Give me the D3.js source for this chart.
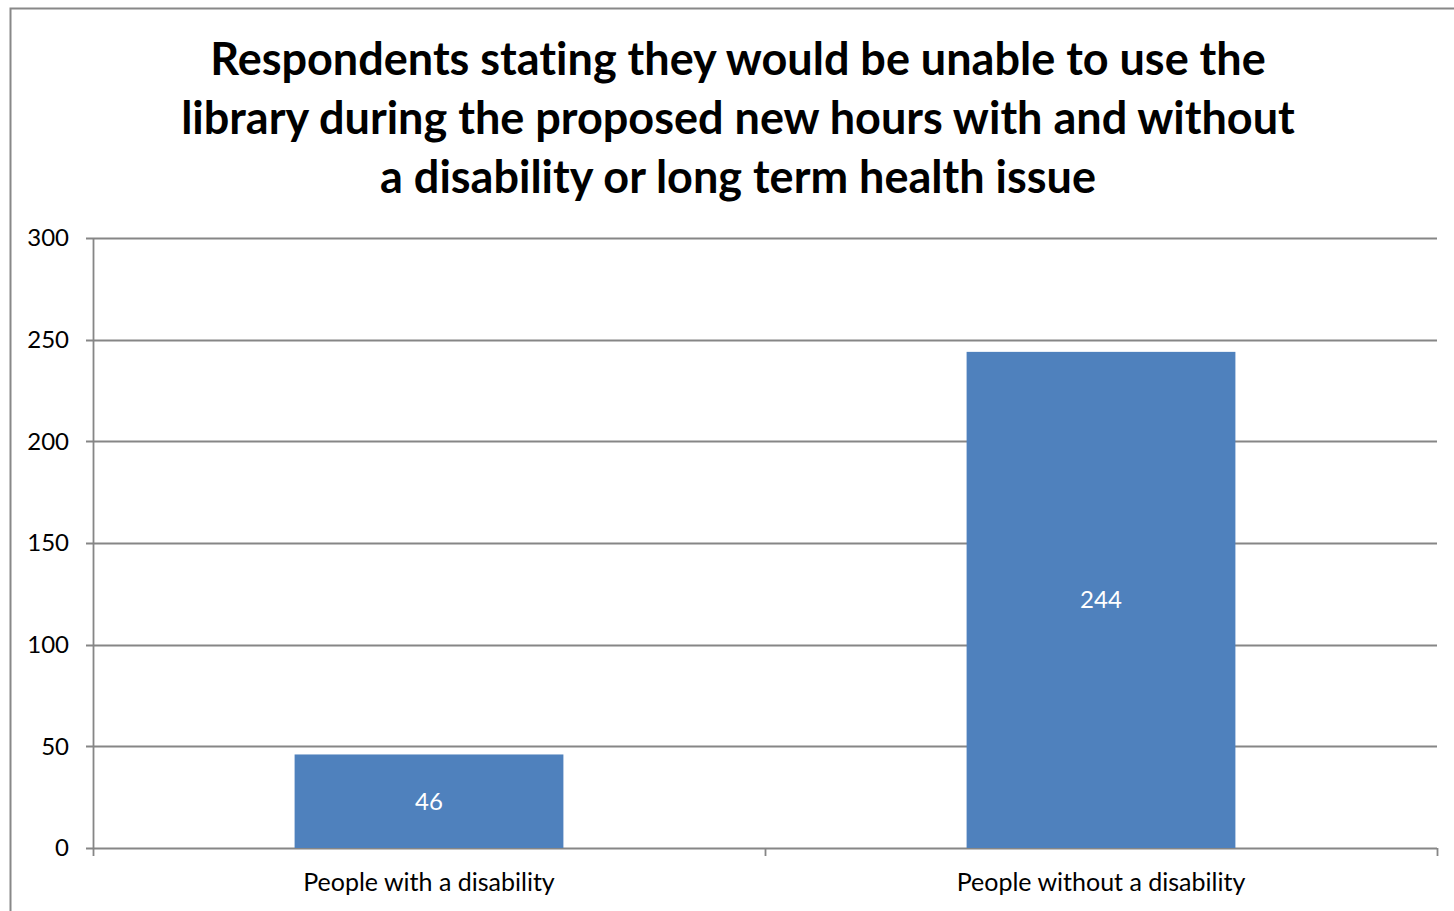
<!DOCTYPE html>
<html>
<head>
<meta charset="utf-8">
<script src="https://cdn.jsdelivr.net/npm/d3@7"></script>
<style>
  html, body { margin: 0; padding: 0; background: #fff; }
  svg { display: block; }
  text { font-variant-ligatures: none; font-feature-settings: "liga" 0, "clig" 0; }
</style>
</head>
<body>
<script>
// Chart data
const categories = ["People with a disability", "People without a disability"];
const values = [46, 244];
const yTicks = [0, 50, 100, 150, 200, 250, 300];
const titleLines = [
  "Respondents stating they would be unable to use the",
  "library during the proposed new hours with and without",
  "a disability or long term health issue"
];

const W = 1454, H = 911;
const FONT = "Lato, 'Open Sans', 'DejaVu Sans', sans-serif";
const svg = d3.select("body").append("svg").attr("width", W).attr("height", H);

// Outer chart frame
svg.append("rect")
  .attr("x", 10.5).attr("y", 8.5)
  .attr("width", W + 20).attr("height", H + 20)
  .attr("fill", "#fff").attr("stroke", "#888").attr("stroke-width", 2);

const plot = { left: 93, right: 1437, top: 238, bottom: 848 };

const x = d3.scaleBand().domain(categories).range([plot.left, plot.right]).paddingInner(0.6).paddingOuter(0.3);
const xOuter = d3.scaleBand().domain(categories).range([plot.left, plot.right]);
const y = d3.scaleLinear().domain([0, 300]).range([plot.bottom, plot.top]);

// Title, sized so the first line spans the intended width
const titleSize = 40;
const tl = svg.append("g").selectAll("text").data(titleLines).join("text")
  .attr("x", 738).attr("y", (d, i) => 75 + i * 59)
  .attr("text-anchor", "middle")
  .attr("font-family", FONT).attr("font-weight", "bold")
  .attr("font-size", titleSize).attr("fill", "#000")
  .text(d => d);
const w0 = tl.node().getComputedTextLength();
tl.attr("font-size", titleSize * 1056 / w0);

// Horizontal gridlines
svg.append("g").selectAll("line").data(yTicks).join("line")
  .attr("x1", plot.left - 7).attr("x2", plot.right)
  .attr("y1", d => Math.round(y(d)) + 0.5).attr("y2", d => Math.round(y(d)) + 0.5)
  .attr("stroke", "#868686").attr("stroke-width", 1.8);

// Y axis labels
svg.append("g").selectAll("text").data(yTicks).join("text")
  .attr("x", 69).attr("y", d => y(d))
  .attr("dy", "0.35em").attr("text-anchor", "end")
  .attr("font-family", FONT).attr("font-size", 24).attr("fill", "#000")
  .text(d => d);

// Y axis line
svg.append("line")
  .attr("x1", plot.left + 0.5).attr("x2", plot.left + 0.5)
  .attr("y1", plot.top).attr("y2", plot.bottom)
  .attr("stroke", "#868686").attr("stroke-width", 1.8);

// Category tick marks at band boundaries
const bounds = [plot.left, ...categories.map(c => xOuter(c) + xOuter.bandwidth())];
svg.append("g").selectAll("line").data(bounds).join("line")
  .attr("x1", d => Math.round(d) + 0.5).attr("x2", d => Math.round(d) + 0.5)
  .attr("y1", plot.bottom).attr("y2", plot.bottom + 8)
  .attr("stroke", "#868686").attr("stroke-width", 1.8);

// Bars
svg.append("g").selectAll("rect").data(values).join("rect")
  .attr("x", (d, i) => x(categories[i]))
  .attr("width", x.bandwidth())
  .attr("y", d => y(d))
  .attr("height", d => y(0) - y(d))
  .attr("fill", "#4F81BD");

// Value labels
svg.append("g").selectAll("text").data(values).join("text")
  .attr("x", (d, i) => x(categories[i]) + x.bandwidth() / 2)
  .attr("y", d => (y(d) + y(0)) / 2)
  .attr("dy", "0.35em").attr("text-anchor", "middle")
  .attr("font-family", FONT).attr("font-size", 24).attr("fill", "#fff")
  .text(d => d);

// Category labels
svg.append("g").selectAll("text").data(categories).join("text")
  .attr("x", d => xOuter(d) + xOuter.bandwidth() / 2)
  .attr("y", 891)
  .attr("text-anchor", "middle")
  .attr("font-family", FONT).attr("font-size", 25).attr("fill", "#000")
  .text(d => d);
</script>
</body>
</html>
